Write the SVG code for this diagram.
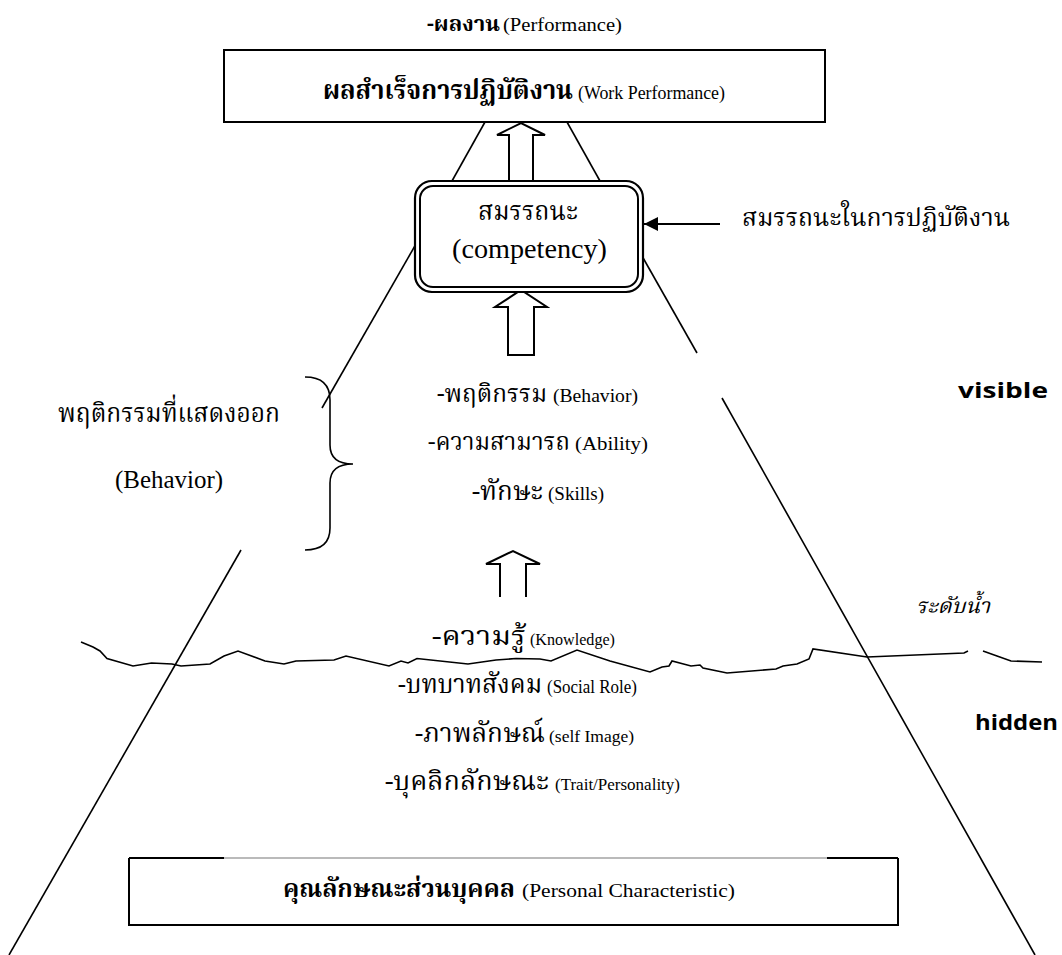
<svg xmlns="http://www.w3.org/2000/svg" width="1062" height="955" viewBox="0 0 1062 955">
<defs>
<style>
.th{font-family:"Noto Serif Thai","Noto Sans Thai Looped","Laksaman","Norasi","Kinnari","Noto Sans Thai","Garuda","Loma","Liberation Serif",serif;fill:#000}
.thb{font-family:"Noto Serif Thai","Noto Sans Thai Looped","Laksaman","Norasi","Kinnari","Noto Sans Thai","Garuda","Loma","Liberation Serif",serif;font-weight:bold;fill:#000}
.en{font-family:"Liberation Serif","Times New Roman",serif;fill:#000}
.lbl{font-family:"Open Sans","Noto Sans","Liberation Sans",sans-serif;font-weight:bold;font-size:22px;fill:#000}
.box{fill:#fff;stroke:#000;stroke-width:2}
.ln{fill:none;stroke:#000;stroke-width:1.6}
.arr{fill:#fff;stroke:#000;stroke-width:2}
</style>
<marker id="ah" viewBox="0 0 10 10" refX="10" refY="5" markerWidth="16" markerHeight="14" markerUnits="userSpaceOnUse" orient="auto">
<path d="M0,0 L10,5 L0,10 z" fill="#000"/>
</marker>
</defs>
<rect width="1062" height="955" fill="#fff"/>

<g id="connectors">
<line class="ln" x1="485" y1="122" x2="452" y2="181"/>
<line class="ln" x1="416" y1="244" x2="322" y2="408"/>
<line class="ln" x1="241" y1="550" x2="9" y2="955"/>
<line class="ln" x1="567" y1="122" x2="600" y2="181"/>
<line class="ln" x1="642" y1="256" x2="697" y2="353"/>
<line class="ln" x1="722" y1="398" x2="1035" y2="955"/>
<polyline class="arr" points="509,181 509,135 497,135 521,123 545,135 533,135 533,181"/>
<polygon class="arr" points="508,355 508,307 495,307 521,290 547,307 534,307 534,355"/>
<polyline class="arr" points="500,597 500,564 486,564 513,551 540,564 526,564 526,597"/>
<line x1="720" y1="224" x2="644" y2="224" stroke="#000" stroke-width="2" marker-end="url(#ah)"/>
<path class="ln" d="M305,377 Q330,377 330,400 L330,445 Q330,464 353,464 Q330,464 330,483 L330,528 Q330,550 305,550" stroke-width="2"/>
<polyline class="ln" points="81,642 93,647 100,651 107,658.5 133,666 151.5,663 172,664 181,666 210,664 224,656 238,651 265,661 284,664 296,661 334,660 346,656 389,666 401,661 408,663 417,658.5 468,664 496,660 516,658.5 540,659 551,661 577,650 610,661 650,672 662,667 669,666 672,661 691,666 700,665 703,668 727,673 776,669 783,666 797,664 809,659 813,649 867,657 964,653 968,651"/>
<polyline class="ln" points="983,651 997,656 1011,661 1042,662"/>
</g>

<g id="top-label">
<text class="thb" x="427" y="31" font-size="22" textLength="73" lengthAdjust="spacingAndGlyphs">-ผลงาน</text>
<text class="en" x="503" y="31" font-size="18" textLength="119" lengthAdjust="spacingAndGlyphs">(Performance)</text>
</g>

<g id="work-performance">
<rect class="box" x="224" y="50" width="601" height="72"/>
<text class="thb" x="323" y="99" font-size="26" textLength="250" lengthAdjust="spacingAndGlyphs">ผลสำเร็จการปฏิบัติงาน</text>
<text class="en" x="578" y="99" font-size="18" textLength="147" lengthAdjust="spacingAndGlyphs">(Work Performance)</text>
</g>

<g id="competency">
<rect x="415" y="181" width="228" height="111" rx="17" fill="#fff" stroke="#000" stroke-width="2.2"/>
<rect x="420" y="186" width="218" height="101" rx="13" fill="none" stroke="#000" stroke-width="2"/>
<text class="th" x="478" y="220" font-size="26" textLength="100" lengthAdjust="spacingAndGlyphs">สมรรถนะ</text>
<text class="en" x="452" y="258" font-size="28" textLength="155" lengthAdjust="spacingAndGlyphs">(competency)</text>
</g>

<g id="competency-label">
<text class="th" x="742" y="226" font-size="25" textLength="268" lengthAdjust="spacingAndGlyphs">สมรรถนะในการปฏิบัติงาน</text>
</g>

<g id="behavior-label">
<text class="th" x="58" y="422" font-size="26" textLength="222" lengthAdjust="spacingAndGlyphs">พฤติกรรมที่แสดงออก</text>
<text class="en" x="115" y="488" font-size="25" textLength="108" lengthAdjust="spacingAndGlyphs">(Behavior)</text>
</g>

<g id="visible-list">
<text class="th" x="437" y="402" font-size="25" textLength="110" lengthAdjust="spacingAndGlyphs">-พฤติกรรม</text>
<text class="en" x="553" y="402" font-size="18" textLength="85" lengthAdjust="spacingAndGlyphs">(Behavior)</text>
<text class="th" x="428" y="450" font-size="24" textLength="142" lengthAdjust="spacingAndGlyphs">-ความสามารถ</text>
<text class="en" x="575" y="450" font-size="19" textLength="73" lengthAdjust="spacingAndGlyphs">(Ability)</text>
<text class="th" x="472" y="500" font-size="26" textLength="71" lengthAdjust="spacingAndGlyphs">-ทักษะ</text>
<text class="en" x="548" y="500" font-size="18" textLength="56" lengthAdjust="spacingAndGlyphs">(Skills)</text>
</g>

<g id="hidden-list">
<text class="th" x="432" y="645" font-size="26" textLength="94" lengthAdjust="spacingAndGlyphs">-ความรู้</text>
<text class="en" x="530" y="645" font-size="17" textLength="85" lengthAdjust="spacingAndGlyphs">(Knowledge)</text>
<text class="th" x="398" y="693" font-size="26" textLength="144" lengthAdjust="spacingAndGlyphs">-บทบาทสังคม</text>
<text class="en" x="547" y="693" font-size="18" textLength="90" lengthAdjust="spacingAndGlyphs">(Social Role)</text>
<text class="th" x="415" y="742" font-size="26" textLength="130" lengthAdjust="spacingAndGlyphs">-ภาพลักษณ์</text>
<text class="en" x="549" y="742" font-size="17" textLength="85" lengthAdjust="spacingAndGlyphs">(self Image)</text>
<text class="th" x="385" y="790" font-size="26" textLength="164" lengthAdjust="spacingAndGlyphs">-บุคลิกลักษณะ</text>
<text class="en" x="555" y="790" font-size="16" textLength="125" lengthAdjust="spacingAndGlyphs">(Trait/Personality)</text>
</g>

<g id="water-label">
<text class="th" x="916" y="613" font-size="21" font-style="italic" textLength="74" lengthAdjust="spacingAndGlyphs">ระดับน้ำ</text>
</g>

<g id="visible">
<text class="lbl" x="958" y="398" textLength="90" lengthAdjust="spacingAndGlyphs">visible</text>
</g>
<g id="hidden">
<text class="lbl" x="975" y="730" textLength="83" lengthAdjust="spacingAndGlyphs">hidden</text>
</g>

<g id="personal-characteristic">
<rect x="129" y="858" width="769" height="67" fill="#fff" stroke="none"/>
<path d="M129,858 L129,925 L898,925 L898,858" fill="none" stroke="#000" stroke-width="2"/>
<line x1="129" y1="858" x2="898" y2="858" stroke="#777" stroke-width="1.2"/>
<line x1="129" y1="858" x2="224" y2="858" stroke="#000" stroke-width="2"/>
<line x1="827" y1="858" x2="898" y2="858" stroke="#000" stroke-width="2"/>
<text class="thb" x="283" y="897" font-size="25" textLength="232" lengthAdjust="spacingAndGlyphs">คุณลักษณะส่วนบุคคล</text>
<text class="en" x="522" y="897" font-size="18" textLength="213" lengthAdjust="spacingAndGlyphs">(Personal Characteristic)</text>
</g>
</svg>
